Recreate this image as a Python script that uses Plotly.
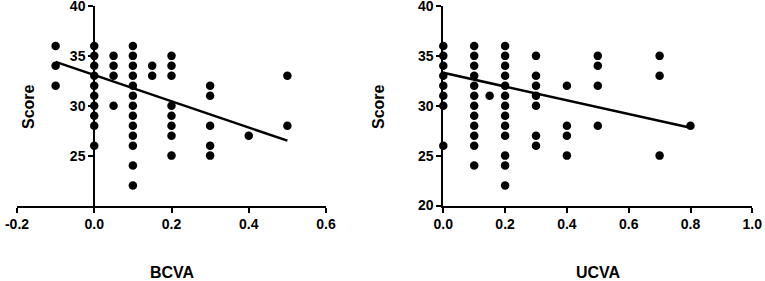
import plotly.graph_objects as go

# BCVA panel data
bcva_x = [-0.1]*3 + [0.0]*10 + [0.05]*4 + [0.1]*13 + [0.15]*2 + [0.2]*8 + [0.3]*5 + [0.4] + [0.5]*2
bcva_y = ([36, 34, 32] +
          [36, 35, 34, 33, 32, 31, 30, 29, 28, 26] +
          [35, 34, 33, 30] +
          [36, 35, 34, 33, 32, 31, 30, 29, 28, 27, 26, 24, 22] +
          [34, 33] +
          [35, 34, 33, 30, 29, 28, 27, 25] +
          [32, 31, 28, 26, 25] +
          [27] +
          [33, 28])
bcva_fit_x = [-0.1, 0.5]
bcva_fit_y = [34.4, 26.5]

# UCVA panel data
ucva_x = [0.0]*8 + [0.1]*12 + [0.15] + [0.2]*13 + [0.3]*7 + [0.4]*4 + [0.5]*4 + [0.7]*3 + [0.8]
ucva_y = ([36, 35, 34, 33, 32, 31, 30, 26] +
          [36, 35, 34, 33, 32, 31, 30, 29, 28, 27, 26, 24] +
          [31] +
          [36, 35, 34, 33, 32, 31, 30, 29, 28, 27, 25, 24, 22] +
          [35, 33, 32, 31, 30, 27, 26] +
          [32, 28, 27, 25] +
          [35, 34, 32, 28] +
          [35, 33, 25] +
          [28])
ucva_fit_x = [0.0, 0.8]
ucva_fit_y = [33.3, 27.8]

bcva_ticks = [-0.2, 0.0, 0.2, 0.4, 0.6]
ucva_ticks = [0.0, 0.2, 0.4, 0.6, 0.8, 1.0]
left_yticks = [25, 30, 35, 40]
right_yticks = [20, 25, 30, 35, 40]

W, H = 765, 281
FONT = "Liberation Sans, Arial, sans-serif"

fig = go.Figure()
mk = dict(color="black", size=8.5)
fig.add_trace(go.Scatter(x=bcva_x, y=bcva_y, mode="markers", marker=mk, xaxis="x", yaxis="y", cliponaxis=False))
fig.add_trace(go.Scatter(x=bcva_fit_x, y=bcva_fit_y, mode="lines", line=dict(color="black", width=2.5), xaxis="x", yaxis="y"))
fig.add_trace(go.Scatter(x=ucva_x, y=ucva_y, mode="markers", marker=mk, xaxis="x2", yaxis="y2", cliponaxis=False))
fig.add_trace(go.Scatter(x=ucva_fit_x, y=ucva_fit_y, mode="lines", line=dict(color="black", width=2.5), xaxis="x2", yaxis="y2"))

lx0, lx1 = 17 / W, 326 / W
rx0, rx1 = 443.3 / W, 752.3 / W
yd0, yd1 = (H - 205.5) / H, (H - 6) / H

tickfont = dict(family=FONT, size=14, color="black", weight="bold")
ax_common = dict(showline=True, linecolor="black", linewidth=2, ticks="outside", ticklen=5,
                 tickwidth=2, tickcolor="black", showgrid=False, zeroline=False,
                 tickfont=tickfont, fixedrange=True, automargin=False,
                 ticklabeloverflow="allow")

fig.update_layout(
    width=W, height=H,
    margin=dict(l=0, r=0, t=0, b=0, pad=0, autoexpand=False),
    paper_bgcolor="white", plot_bgcolor="white",
    showlegend=False,
    xaxis=dict(domain=[lx0, lx1], range=[-0.2, 0.6], tickvals=bcva_ticks,
               ticktext=[f"{v:.1f}" for v in bcva_ticks], anchor="y", **ax_common),
    yaxis=dict(domain=[yd0, yd1], range=[20, 40], tickvals=left_yticks, anchor="free",
               position=lx0 + 0.25 * (lx1 - lx0), **ax_common),
    xaxis2=dict(domain=[rx0, rx1], range=[0, 1.0], tickvals=ucva_ticks,
                ticktext=[f"{v:.1f}" for v in ucva_ticks], anchor="y2", **ax_common),
    yaxis2=dict(domain=[yd0, yd1], range=[20, 40], tickvals=right_yticks, anchor="x2", **ax_common),
)

titlefont = dict(family=FONT, size=16, color="black", weight="bold")
fig.add_annotation(text="BCVA", x=172 / W, y=(H - 272.5) / H, xref="paper", yref="paper",
                   showarrow=False, font=titlefont, xanchor="center", yanchor="middle")
fig.add_annotation(text="UCVA", x=598 / W, y=(H - 272.5) / H, xref="paper", yref="paper",
                   showarrow=False, font=titlefont, xanchor="center", yanchor="middle")
fig.add_annotation(text="Score", x=28 / W, y=(H - 107) / H, xref="paper", yref="paper",
                   showarrow=False, font=titlefont, textangle=-90, xanchor="center", yanchor="middle")
fig.add_annotation(text="Score", x=378 / W, y=(H - 107) / H, xref="paper", yref="paper",
                   showarrow=False, font=titlefont, textangle=-90, xanchor="center", yanchor="middle")

fig.write_html(
    "out.html",
    config={"displayModeBar": False},
    post_script="document.body.style.margin='0';document.body.style.overflow='hidden';",
)
